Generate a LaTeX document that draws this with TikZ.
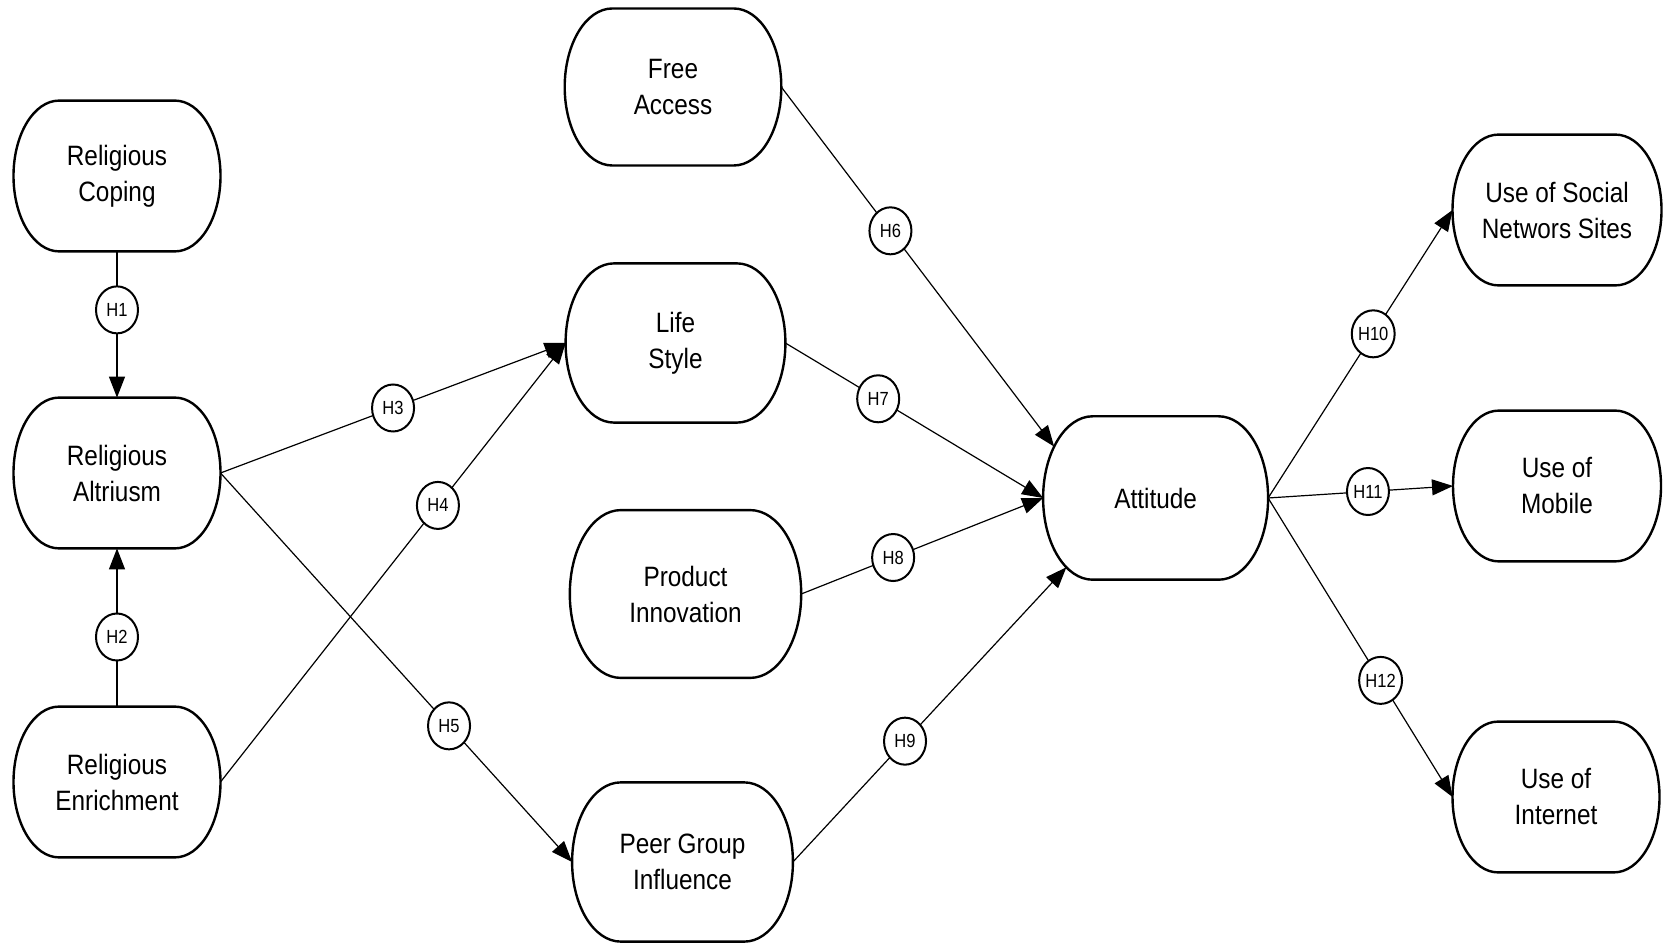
\documentclass[tikz,border=0pt]{standalone}
\usepackage{fontspec}
\setmainfont{Liberation Sans}[FakeStretch=0.87]
\usetikzlibrary{shapes.geometric,arrows.meta,calc}

\tikzset{
  construct/.style={inner sep=0pt, outer sep=0pt, align=center,
    font=\fontsize{14pt}{18pt}\selectfont},
  rim/.style={line width=1.2pt, line join=round},
  hyp/.style={ellipse, draw, line width=1pt, fill=white,
    minimum width=21pt, minimum height=23.5pt, inner sep=0pt,
    font=\fontsize{9.5pt}{9.5pt}\selectfont},
  link/.style={line width=0.6pt, -{Triangle[length=10.5pt,width=8pt]}},
}

% outline of a construct: straight top and bottom, elliptical ends
% #1 node name, #2 horizontal radius of the ends, #3 half height
\newcommand\capsule[3]{%
  \draw[rim] ([xshift=#2]#1.north west) -- ([xshift=-#2]#1.north east)
    arc[start angle=90, end angle=-90, x radius=#2, y radius=#3]
    -- ([xshift=#2]#1.south west)
    arc[start angle=270, end angle=90, x radius=#2, y radius=#3]
    -- cycle;}

\begin{document}
\begin{tikzpicture}[x=0.5pt,y=-0.5pt]
\fill[white] (0,0) rectangle (1664,945);
\useasboundingbox (0,0) rectangle (1664,945);

% constructs
\node[construct, minimum width=103.5pt, minimum height=75.4pt] (cop) at (117,176) {Religious\\Coping};
\node[construct, minimum width=103.5pt, minimum height=75.4pt] (alt) at (117,473) {Religious\\Altriusm};
\node[construct, minimum width=103.5pt, minimum height=75.4pt] (enr) at (117,782) {Religious\\Enrichment};
\node[construct, minimum width=108.3pt, minimum height=78.5pt] (fre) at (673,87) {Free\\Access};
\node[construct, minimum width=109.9pt, minimum height=79.6pt] (lif) at (675.5,343) {Life\\Style};
\node[construct, minimum width=115.7pt, minimum height=83.9pt] (pro) at (685.5,594) {Product\\Innovation};
\node[construct, minimum width=110.4pt, minimum height=79.6pt] (pee) at (682.5,862) {Peer Group\\Influence};
\node[construct, minimum width=112.5pt, minimum height=81.7pt] (att) at (1155.6,498) {Attitude};
\node[construct, minimum width=104.5pt, minimum height=75.4pt] (soc) at (1557,210) {Use of Social\\Networs Sites};
\node[construct, minimum width=104pt, minimum height=75.4pt] (mob) at (1557,486) {Use of\\Mobile};
\node[construct, minimum width=103.5pt, minimum height=75.4pt] (int) at (1556,797) {Use of\\Internet};

\capsule{cop}{22.8pt}{37.7pt}
\capsule{alt}{22.8pt}{37.7pt}
\capsule{enr}{22.8pt}{37.7pt}
\capsule{fre}{23.8pt}{39.25pt}
\capsule{lif}{24.2pt}{39.8pt}
\capsule{pro}{25.5pt}{41.95pt}
\capsule{pee}{24.3pt}{39.8pt}
\capsule{att}{24.75pt}{40.85pt}
\capsule{soc}{23pt}{37.7pt}
\capsule{mob}{22.9pt}{37.7pt}
\capsule{int}{22.8pt}{37.7pt}

% entry points on the curved left end of Attitude
\coordinate (att-a) at ($([xshift=24.75pt]att.west)+(141:24.75pt and 40.85pt)$);
\coordinate (att-b) at ($([xshift=24.75pt]att.west)+(238:24.75pt and 40.85pt)$);

% hypotheses
\draw[link] (cop.south) -- node[hyp,pos=0.40]{H1} (alt.north);
\draw[link] (enr.north) -- node[hyp,pos=0.44]{H2} (alt.south);
\draw[link] (alt.east) -- node[hyp,pos=0.50]{H3} (lif.west);
\draw[link] (enr.east) -- node[hyp,pos=0.63]{H4} (lif.west);
\draw[link] (alt.east) -- node[hyp,pos=0.65]{H5} (pee.west);
\draw[link] (fre.east) -- node[hyp,pos=0.40]{H6} (att-a);
\draw[link] (lif.east) -- node[hyp,pos=0.36]{H7} (att.west);
\draw[link] (pro.east) -- node[hyp,pos=0.38]{H8} (att.west);
\draw[link] (pee.east) -- node[hyp,pos=0.41]{H9} (att-b);
\draw[link] (att.east) -- node[hyp,pos=0.57]{H10} (soc.west);
\draw[link] (att.east) -- node[hyp,pos=0.54]{H11} (mob.west);
\draw[link] (att.east) -- node[hyp,pos=0.61]{H12} (int.west);
\end{tikzpicture}
\end{document}
